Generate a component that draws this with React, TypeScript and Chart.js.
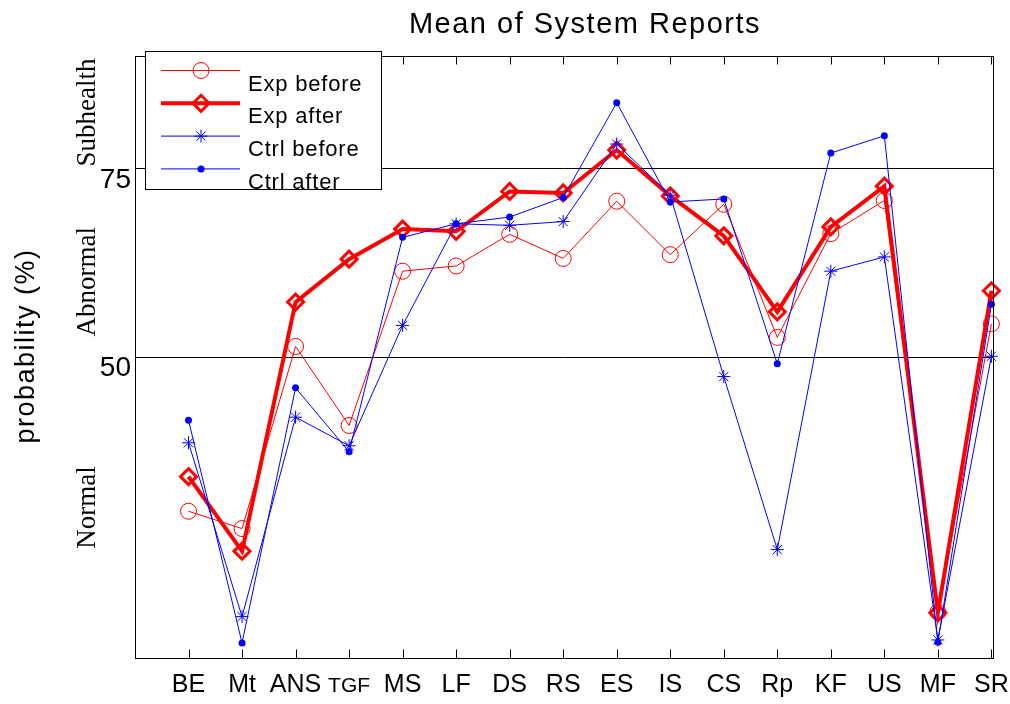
import React, { useEffect, useRef } from 'react';
import { Chart, registerables } from 'chart.js';

Chart.register(...registerables);

const categories = ['BE', 'Mt', 'ANS', 'TGF', 'MS', 'LF', 'DS', 'RS', 'ES', 'IS', 'CS', 'Rp', 'KF', 'US', 'MF', 'SR'];
const expBefore = [29.5, 27.2, 51.4, 40.9, 61.4, 62.1, 66.3, 63.1, 70.7, 63.6, 70.3, 52.6, 66.4, 70.8, 16.1, 54.4];
const expAfter = [34.1, 24.2, 57.3, 63.0, 67.0, 66.7, 72.0, 71.8, 77.5, 71.4, 66.1, 56.0, 67.3, 72.7, 16.0, 58.8];
const ctrlBefore = [38.6, 15.5, 42.0, 38.2, 54.2, 67.7, 67.5, 68.0, 78.3, 71.5, 47.4, 24.4, 61.4, 63.3, 12.4, 50.1];
const ctrlAfter = [41.6, 12.0, 45.9, 37.4, 65.9, 67.7, 68.6, 71.2, 83.8, 70.6, 71.0, 49.1, 77.1, 79.4, 12.1, 57.0];
const yTickValues = [50, 75];
const zoneLabels = ['Subhealth', 'Abnormal', 'Normal'];
const zoneCenters = [82.5, 60, 30];
const seriesNames = ['Exp before', 'Exp after', 'Ctrl before', 'Ctrl after'];
const titleText = 'Mean of System Reports';
const yAxisTitle = 'probability (%)';

const SANS = '"Liberation Sans", Arial, Helvetica, sans-serif';
const SERIF = '"Liberation Serif", "Times New Roman", serif';
const RED = '#ff0000';
const BLUE = '#0000ff';

function drawMarker(ctx: CanvasRenderingContext2D, kind: number, x: number, y: number) {
  ctx.save();
  if (kind === 0) {
    ctx.strokeStyle = RED; ctx.lineWidth = 1;
    ctx.beginPath(); ctx.arc(x, y, 8, 0, Math.PI * 2); ctx.stroke();
  } else if (kind === 1) {
    ctx.strokeStyle = RED; ctx.lineWidth = 3;
    const r = 8;
    ctx.beginPath(); ctx.moveTo(x - r, y); ctx.lineTo(x, y - r); ctx.lineTo(x + r, y); ctx.lineTo(x, y + r); ctx.closePath(); ctx.stroke();
  } else if (kind === 2) {
    ctx.strokeStyle = BLUE; ctx.lineWidth = 1;
    const r = 6.5; const d = r * Math.SQRT1_2;
    ctx.beginPath();
    ctx.moveTo(x - r, y); ctx.lineTo(x + r, y);
    ctx.moveTo(x, y - r); ctx.lineTo(x, y + r);
    ctx.moveTo(x - d, y - d); ctx.lineTo(x + d, y + d);
    ctx.moveTo(x - d, y + d); ctx.lineTo(x + d, y - d);
    ctx.stroke();
  } else {
    ctx.fillStyle = BLUE;
    ctx.beginPath(); ctx.arc(x, y, 3.5, 0, Math.PI * 2); ctx.fill();
  }
  ctx.restore();
}

const decorPlugin = {
  id: 'decor',
  afterDraw(chart: any) {
    const { ctx, chartArea: a, scales } = chart;
    const xs = scales.x;
    const ys = scales.y;
    ctx.save();
    ctx.strokeStyle = '#000';
    ctx.lineWidth = 1;
    const top = Math.round(a.top) + 0.5;
    const right = Math.round(a.right) + 0.5;
    const bottom = Math.round(a.bottom) + 0.5;
    ctx.beginPath();
    ctx.moveTo(Math.round(a.left), top); ctx.lineTo(right, top); ctx.lineTo(right, bottom);
    ctx.stroke();
    ctx.beginPath();
    categories.forEach((_, i) => {
      const px = Math.round(xs.getPixelForValue(i + 1)) + 0.5;
      ctx.moveTo(px, bottom); ctx.lineTo(px, bottom - 9);
      ctx.moveTo(px, top); ctx.lineTo(px, top + 8);
    });
    ctx.stroke();

    // title
    ctx.fillStyle = '#000';
    (ctx as any).letterSpacing = '1.5px';
    ctx.font = `29px ${SANS}`;
    ctx.textAlign = 'center';
    ctx.textBaseline = 'alphabetic';
    ctx.fillText(titleText, 585, 33);

    // y axis title
    ctx.save();
    (ctx as any).letterSpacing = '1.5px';
    ctx.translate(27, 346);
    ctx.rotate(-Math.PI / 2);
    ctx.font = `27px ${SANS}`;
    ctx.textBaseline = 'middle';
    ctx.fillText(yAxisTitle, 0, 0);
    ctx.restore();

    // zone labels
    (ctx as any).letterSpacing = '0px';
    zoneLabels.forEach((t, i) => {
      ctx.save();
      ctx.translate(95, ys.getPixelForValue(zoneCenters[i]));
      ctx.rotate(-Math.PI / 2);
      ctx.font = `27px ${SERIF}`;
      ctx.textAlign = 'center';
      ctx.textBaseline = 'alphabetic';
      ctx.fillText(t, 0, 0);
      ctx.restore();
    });

    // legend
    ctx.fillStyle = '#fff';
    ctx.fillRect(145.5, 51.5, 236, 138);
    ctx.strokeStyle = '#000';
    ctx.lineWidth = 1;
    ctx.strokeRect(145.5, 51.5, 236, 138);
    const widths = [1, 4, 1, 1];
    const colors = [RED, RED, BLUE, BLUE];
    seriesNames.forEach((name, i) => {
      const ly = 70.5 + i * 32.8;
      ctx.strokeStyle = colors[i];
      ctx.lineWidth = widths[i];
      ctx.beginPath(); ctx.moveTo(161, ly); ctx.lineTo(240, ly); ctx.stroke();
      drawMarker(ctx, i, 201, ly);
      ctx.fillStyle = '#000';
      (ctx as any).letterSpacing = '0.8px';
      ctx.font = `22px ${SANS}`;
      ctx.textAlign = 'left';
      ctx.textBaseline = 'alphabetic';
      ctx.fillText(name, 248, ly + 20);
    });
    ctx.restore();
  },
};

export default function App() {
  const ref = useRef<HTMLCanvasElement | null>(null);
  useEffect(() => {
    if (!ref.current) return;
    const pts = (arr: number[]) => arr.map((v, i) => ({ x: i + 1, y: v }));
    const clear = 'rgba(0,0,0,0)';
    const chart = new Chart(ref.current, {
      type: 'line',
      data: {
        datasets: [
          {
            label: seriesNames[0], data: pts(expBefore), borderColor: RED, borderWidth: 1,
            pointStyle: 'circle', pointRadius: 8, pointBorderWidth: 1, pointBorderColor: RED,
            pointBackgroundColor: clear, tension: 0, order: 4, clip: false,
          },
          {
            label: seriesNames[1], data: pts(expAfter), borderColor: RED, borderWidth: 4,
            pointStyle: 'rectRot', pointRadius: 8, pointBorderWidth: 3, pointBorderColor: RED,
            pointBackgroundColor: clear, tension: 0, order: 3, clip: false,
          },
          {
            label: seriesNames[2], data: pts(ctrlBefore), borderColor: BLUE, borderWidth: 1,
            pointStyle: 'star', pointRadius: 6.5, pointBorderWidth: 1, pointBorderColor: BLUE,
            pointBackgroundColor: BLUE, tension: 0, order: 2, clip: false,
          },
          {
            label: seriesNames[3], data: pts(ctrlAfter), borderColor: BLUE, borderWidth: 1,
            pointStyle: 'circle', pointRadius: 3.5, pointBorderWidth: 0, pointBorderColor: BLUE,
            pointBackgroundColor: BLUE, tension: 0, order: 1, clip: false,
          },
        ] as any,
      },
      options: {
        animation: false,
        responsive: false,
        maintainAspectRatio: false,
        events: [],
        layout: { padding: { left: 0, top: 56, right: 17, bottom: 0 } },
        plugins: {
          legend: { display: false },
          title: { display: false },
          tooltip: { enabled: false },
        },
        scales: {
          x: {
            type: 'linear',
            min: 0,
            max: 16.03,
            afterBuildTicks: (s: any) => { s.ticks = categories.map((_, i) => ({ value: i + 1 })); },
            afterFit: (s: any) => { s.height = 46; s.paddingLeft = 0; s.paddingRight = 0; },
            grid: { display: false, drawTicks: false },
            border: { display: true, color: '#000', width: 1 },
            ticks: {
              autoSkip: false,
              maxRotation: 0,
              padding: 12,
              color: '#000',
              font: (c: any) => (categories[c.index] === 'TGF'
                ? { family: SANS, size: 21, lineHeight: 1.57 }
                : { family: SANS, size: 25 }),
              callback: (v: any) => categories[Math.round(Number(v)) - 1] ?? '',
            },
          },
          y: {
            type: 'linear',
            min: 10,
            max: 90,
            afterBuildTicks: (s: any) => { s.ticks = yTickValues.map((v) => ({ value: v })); },
            afterFit: (s: any) => { s.width = 135; s.paddingTop = 0; s.paddingBottom = 0; },
            grid: { color: '#000', lineWidth: 1, drawTicks: false },
            border: { display: true, color: '#000', width: 1 },
            ticks: {
              color: '#000',
              padding: 4,
              labelOffset: 11,
              font: { family: SANS, size: 28 },
              callback: (v: any) => String(v),
            },
          },
        },
      } as any,
      plugins: [decorPlugin],
    });
    return () => chart.destroy();
  }, []);
  return (
    <div style={{ position: 'fixed', left: 0, top: 0, width: 1010, height: 704, background: '#fff' }}>
      <canvas ref={ref} width={1010} height={704} style={{ display: 'block' }} />
    </div>
  );
}
